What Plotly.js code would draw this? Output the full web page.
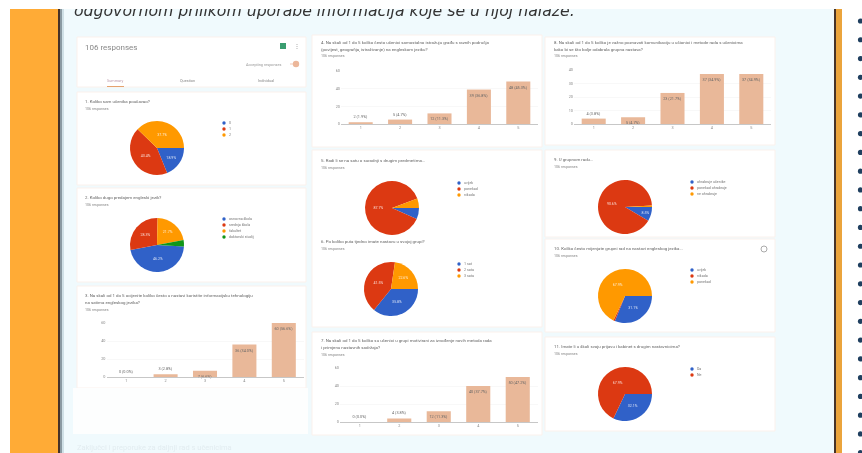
<!DOCTYPE html>
<html>
<head>
<meta charset="utf-8">
<script src="https://cdn.plot.ly/plotly-3.0.1.min.js"></script>
<style>
html,body{margin:0;padding:0;background:#fff;overflow:hidden}
#chart{width:862px;height:453px;filter:blur(0.7px)}
#topband{position:absolute;left:0;top:0;width:862px;height:9px;background:#fff}
</style>
</head>
<body>
<div id="chart"></div>
<div id="topband"></div>
<script>
const W = 862, H = 453;
const headline = "odgovornom prilikom uporabe informacija koje se u njoj nalaze.";
const footline = "Zaključci i preporuke za daljnji rad s učenicima";
const responses = "106 responses";

const barCategories = ["1", "2", "3", "4", "5"];
const bar3Values = [0, 3, 7, 36, 60];
const bar4Values = [2, 5, 12, 39, 48];
const bar7Values = [0, 4, 12, 40, 50];
const bar8Values = [4, 5, 23, 37, 37];
const barTicks60 = [0, 20, 40, 60];
const barTicks40 = [0, 10, 20, 30, 40];

const pie1Labels = ["0", "1", "2"];
const pie1Values = [20, 46, 40];
const pie2Labels = ["osnovna škola", "srednja škola", "fakultet", "doktorski studij"];
const pie2Values = [49, 30, 23, 4];
const pie5Labels = ["uvijek", "ponekad", "nikada"];
const pie5Values = [7, 93, 6];
const pie6Labels = ["1 sat", "2 sata", "3 sata"];
const pie6Values = [38, 44, 24];
const pie9Labels = ["ohrabruje učenike", "ponekad ohrabruje", "ne ohrabruje"];
const pie9Values = [9, 96, 1];
const pie10Labels = ["uvijek", "nikada", "ponekad"];
const pie10Values = [33, 1, 72];
const pie11Labels = ["Da", "Ne"];
const pie11Values = [34, 72];

const q1 = "1. Koliko sam učenika poučavao?";
const q2 = "2. Koliko dugo predajem engleski jezik?";
const q3 = ["3. Na skali od 1 do 5 ocijenite koliko često u nastavi koristite informacijsku tehnologiju", "na satima engleskog jezika?"];
const q4 = ["4. Na skali od 1 do 5 koliko često učenici samostalno istražuju građu s raznih područja", "(povijest, geografija, istraživanje) na engleskom jeziku?"];
const q5 = "5. Radi li se na satu o suradnji s drugim predmetima...";
const q6 = "6. Po koliko puta tjedno imate nastavu u svojoj grupi?";
const q7 = ["7. Na skali od 1 do 5 koliko su učenici u grupi motivirani za izvođenje novih metoda rada", "i primjenu nastavnih sadržaja?"];
const q8 = ["8. Na skali od 1 do 5 koliko je važno poznavati komunikaciju u učionici i metode rada s učenicima", "kako bi se što bolje odabrala grupna nastava?"];
const q9 = "9. U grupnom radu...";
const q10 = "10. Koliko često mijenjate grupni rad na nastavi engleskog jezika...";
const q11 = "11. Imate li u školi svoju prijavu i kabinet s drugim nastavnicima?";

const pieColors = ["#3061c8", "#dc3912", "#ff9900", "#109618"];
const barColor = "#e9b899";
const cardColor = "#ffffff";
const cardEdge = "#fbf1ec";

const px = x => x / W;
const py = y => 1 - y / H;
const shapes = [], annotations = [], data = [];
const layout = {
  width: W, height: H, margin: {l: 0, r: 0, t: 0, b: 0},
  paper_bgcolor: "#ffffff", plot_bgcolor: "rgba(0,0,0,0)",
  showlegend: false, shapes, annotations,
  font: {family: "Roboto, sans-serif", color: "#666"}
};

function rect(x0, y0, x1, y1, fill, edge) {
  shapes.push({type: "rect", layer: "below", xref: "paper", yref: "paper",
    x0: px(x0), x1: px(x1), y0: py(y0), y1: py(y1), fillcolor: fill,
    line: edge ? {color: edge, width: 1} : {width: 0}});
}
function dot(x, y, r, fill) {
  shapes.push({type: "circle", layer: "above", xref: "paper", yref: "paper",
    x0: px(x - r), x1: px(x + r), y0: py(y - r), y1: py(y + r), fillcolor: fill, line: {width: 0}});
}
function note(x, y, text, size, color, anchor, extra) {
  annotations.push(Object.assign({xref: "paper", yref: "paper", x: px(x), y: py(y), text, showarrow: false,
    xanchor: anchor || "left", yanchor: "middle", font: {size, color: color || "#777"}, borderpad: 0}, extra || {}));
}

// page frame
rect(10, 9, 58, H, "#ffab36");
rect(58, 9, 60, H, "#463228");
rect(60, 9, 62, H, "#8a9aa2");
rect(62, 9, 64, H, "#cfe0e6");
rect(64, 9, 834, H, "#f0fafd");
rect(834, 9, 836, H, "#463228");
rect(836, 9, 842, H, "#ebA43c");
for (let i = 0; i < 24; i++) dot(860.5, 21 + i * 18.77, 2.6, "#1f3f5f");

note(73, 10, headline, 15.7, "#333", "left", {font: {size: 15.7, color: "#333", family: "DejaVu Sans"}, text: "<i>" + headline + "</i>"});
note(76, 447, footline, 7.5, "#e2ecf0");

// cards
rect(77, 37, 306, 87, cardColor, cardEdge);
rect(77, 92, 306, 185, cardColor, cardEdge);
rect(77, 188, 306, 282, cardColor, cardEdge);
rect(77, 286, 306, 388, cardColor, cardEdge);
rect(73, 388, 308, 434, "#fdfefe");
rect(312, 35, 542, 147, cardColor, cardEdge);
rect(312, 150, 542, 327, cardColor, cardEdge);
rect(312, 332, 542, 435, cardColor, cardEdge);
rect(545, 37, 775, 145, cardColor, cardEdge);
rect(545, 150, 775, 237, cardColor, cardEdge);
rect(545, 239, 775, 332, cardColor, cardEdge);
rect(545, 337, 775, 431, cardColor, cardEdge);

// header card
note(84, 48, responses, 8, "#888");
rect(280, 43, 286, 49, "#3a9d70");
dot(297, 44.5, 0.6, "#aaa"); dot(297, 46.5, 0.6, "#aaa"); dot(297, 48.5, 0.6, "#aaa");
note(283, 64, "Accepting responses", 3.8, "#999", "right");
rect(290, 63.5, 296, 64.5, "#f2c9b4");
dot(296, 64, 3.2, "#ecb79a");
note(115, 80, "Summary", 3.8, "#b9a", "center");
note(187, 80, "Question", 3.8, "#888", "center");
note(266, 80, "Individual", 3.8, "#888", "center");
rect(107, 86, 124, 87, "#e5a36f");
// share icon on card 10
shapes.push({type: "circle", layer: "above", xref: "paper", yref: "paper",
  x0: px(761), x1: px(767), y0: py(252), y1: py(246), line: {color: "#aaa", width: 1}, fillcolor: "rgba(0,0,0,0)"});

function question(x, y, lines) {
  const ls = Array.isArray(lines) ? lines : [lines];
  ls.forEach((t, i) => note(x, y + i * 7, t, 4.4, "#666"));
  note(x, y + ls.length * 7 + 0.5, responses, 3.6, "#888");
}

function pie(cx, cy, r, labels, values, rotation, legendX, legendY) {
  const total = values.reduce((a, b) => a + b, 0);
  data.push({
    type: "pie", labels, values, rotation, sort: false, direction: "clockwise",
    domain: {x: [px(cx - r), px(cx + r)], y: [py(cy + r), py(cy - r)]},
    marker: {colors: pieColors, line: {width: 0}},
    textinfo: "text",
    text: values.map(v => v / total > 0.07 ? (100 * v / total).toFixed(1) + "%" : ""),
    textposition: "inside", insidetextorientation: "horizontal",
    textfont: {size: 3.6, color: "rgba(255,255,255,0.8)"}, hoverinfo: "label+percent"
  });
  labels.forEach((l, i) => {
    dot(legendX, legendY + i * 6, 1.7, pieColors[i]);
    note(legendX + 4, legendY + i * 6, l, 3.6, "#777");
  });
}

function bars(idx, xL, xR, yTop, yBot, values, maxV, ticks) {
  const xa = "xaxis" + idx, ya = "yaxis" + idx;
  const total = values.reduce((a, b) => a + b, 0);
  layout[xa] = {domain: [px(xL), px(xR)], anchor: "y" + idx, type: "category",
    tickfont: {size: 3.8, color: "#888"}, showline: true, linecolor: "#b9b9b9", linewidth: 0.8,
    ticks: "", showgrid: false, zeroline: false, fixedrange: true, ticklen: 0};
  layout[ya] = {domain: [py(yBot), py(yTop)], anchor: "x" + idx, range: [0, maxV],
    tickvals: ticks, ticktext: ticks.map(String), tickfont: {size: 3.8, color: "#888"},
    gridcolor: "#f3f3f3", gridwidth: 0.6, zeroline: false, showline: false, ticks: "", fixedrange: true};
  data.push({
    type: "bar", x: barCategories, y: values, xaxis: "x" + idx, yaxis: "y" + idx,
    marker: {color: barColor, line: {width: 0}},
    text: values.map(v => v + " (" + (100 * v / total).toFixed(1) + "%)"),
    textposition: values.map(v => v > maxV * 0.1 ? "inside" : "outside"),
    insidetextanchor: "end", textangle: 0, constraintext: "none", cliponaxis: false,
    textfont: {size: 3.8, color: "#666"}, width: 0.61, hoverinfo: "x+y"
  });
}

question(84, 101, q1);
pie(157, 148, 27, pie1Labels, pie1Values, 90, 224, 123);
question(84, 197, q2);
pie(157, 245, 27, pie2Labels, pie2Values, 93, 224, 219);
question(84, 295, q3);
bars(1, 106.5, 303.5, 323, 377, bar3Values, 60, barTicks60);
question(320, 42, q4);
bars(2, 341, 538, 71, 124, bar4Values, 60, barTicks60);
question(320, 160, q5);
pie(392, 208, 27, pie5Labels, pie5Values, 90, 459, 183);
question(320, 241, q6);
pie(391, 289, 27, pie6Labels, pie6Values, 90, 459, 264);
question(320, 340, q7);
bars(3, 340, 537.5, 368, 422, bar7Values, 60, barTicks60);
question(553, 42, q8);
bars(4, 574, 771, 70, 124, bar8Values, 40, barTicks40);
question(553, 159, q9);
pie(625, 207, 27, pie9Labels, pie9Values, 90, 692, 182);
question(553, 248, q10);
pie(625, 296, 27, pie10Labels, pie10Values, 90, 692, 270);
question(553, 346, q11);
pie(625, 394, 27, pie11Labels, pie11Values, 90, 692, 369);

Plotly.newPlot("chart", data, layout, {displayModeBar: false, staticPlot: true});
</script>
</body>
</html>
